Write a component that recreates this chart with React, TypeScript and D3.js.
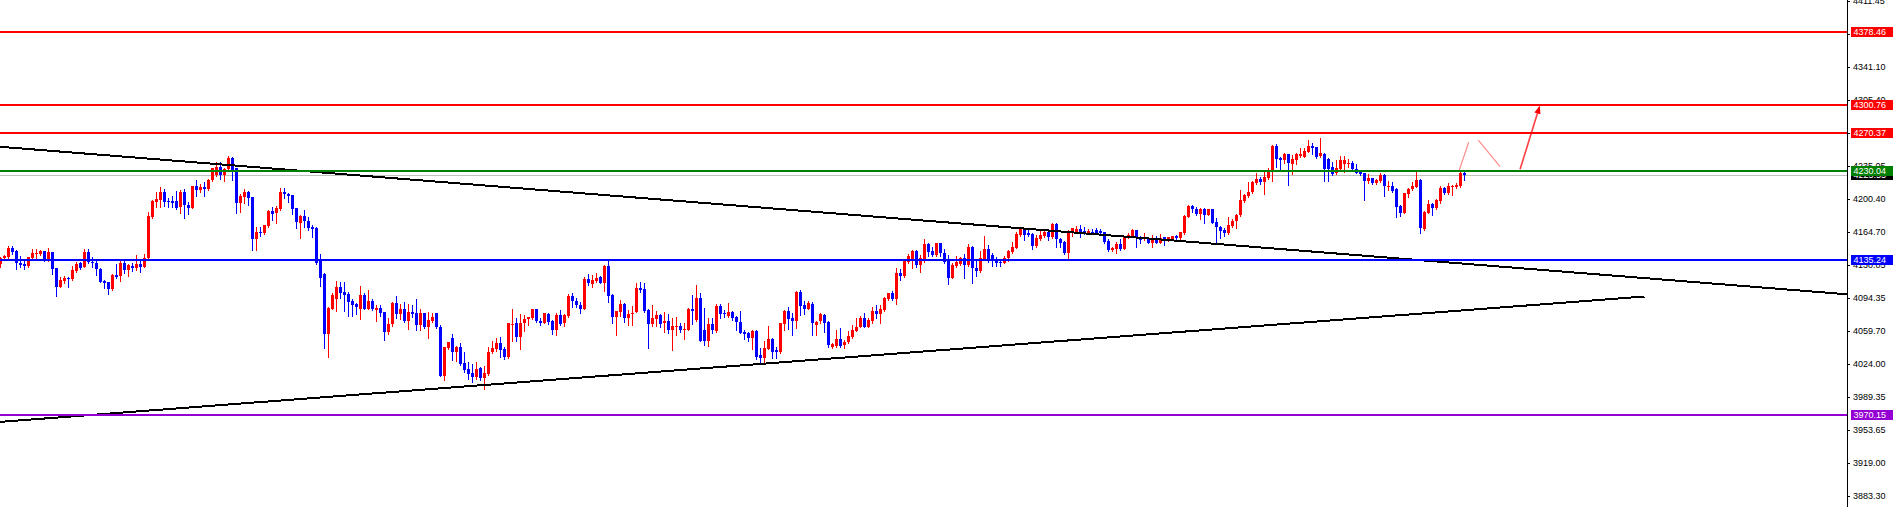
import React from 'react';
import * as d3 from 'd3';

// [open, high, low, close]
const candles: [number, number, number, number][] = [
  [4130.9, 4138.7, 4128.0, 4137.0], [4137.0, 4140.5, 4135.2, 4139.8], [4138.7, 4149.7, 4137.6, 4148.3], [4148.3, 4150.1, 4141.6, 4144.0],
  [4145.1, 4145.8, 4125.2, 4131.6], [4132.3, 4139.1, 4127.3, 4129.8], [4130.9, 4134.4, 4125.9, 4128.8], [4128.8, 4138.7, 4128.0, 4138.0],
  [4137.0, 4146.9, 4135.2, 4143.0], [4141.6, 4146.5, 4137.0, 4143.0], [4141.6, 4145.8, 4140.5, 4144.8], [4144.8, 4145.1, 4134.1, 4135.2],
  [4135.2, 4148.0, 4134.4, 4144.0], [4143.7, 4144.0, 4120.6, 4125.2], [4126.3, 4127.0, 4097.1, 4106.7], [4106.7, 4117.4, 4106.0, 4114.2],
  [4113.1, 4118.4, 4111.0, 4115.9], [4116.3, 4117.4, 4106.7, 4114.5], [4114.5, 4128.8, 4113.8, 4124.5], [4123.4, 4133.4, 4122.7, 4131.2],
  [4131.6, 4133.4, 4125.2, 4127.0], [4128.0, 4146.5, 4127.3, 4143.7], [4143.3, 4146.9, 4131.6, 4132.7], [4133.4, 4138.3, 4128.0, 4131.6],
  [4132.0, 4134.4, 4119.1, 4125.2], [4125.2, 4126.3, 4111.3, 4112.0], [4112.7, 4113.8, 4104.9, 4111.0], [4111.7, 4112.0, 4099.2, 4103.9],
  [4103.9, 4120.2, 4103.1, 4119.5], [4118.8, 4130.5, 4115.6, 4117.4], [4118.1, 4134.1, 4113.1, 4132.3], [4132.3, 4135.2, 4120.9, 4124.5],
  [4124.5, 4130.9, 4118.1, 4129.8], [4128.8, 4132.3, 4123.8, 4127.0], [4126.3, 4140.5, 4124.5, 4130.9], [4130.9, 4135.2, 4122.7, 4128.0],
  [4128.0, 4141.6, 4127.3, 4137.0], [4137.0, 4186.7, 4136.2, 4182.1], [4180.7, 4199.2, 4179.6, 4198.5], [4197.4, 4208.1, 4191.4, 4200.2],
  [4199.2, 4213.4, 4191.4, 4208.1], [4207.7, 4210.6, 4192.8, 4197.4], [4198.5, 4201.0, 4191.4, 4197.0], [4198.1, 4203.5, 4191.4, 4196.3],
  [4197.8, 4208.8, 4189.6, 4191.0], [4191.4, 4209.9, 4185.0, 4208.1], [4208.1, 4210.9, 4180.0, 4193.5], [4193.5, 4197.4, 4183.9, 4191.0],
  [4191.0, 4214.5, 4190.6, 4214.1], [4214.1, 4220.5, 4203.8, 4209.9], [4209.9, 4215.9, 4208.1, 4212.7], [4213.4, 4218.0, 4203.8, 4210.6],
  [4210.9, 4221.2, 4210.2, 4220.5], [4220.5, 4233.7, 4219.8, 4233.0], [4225.9, 4240.1, 4225.1, 4234.0], [4234.0, 4240.1, 4221.6, 4225.9],
  [4225.9, 4233.7, 4219.8, 4232.6], [4231.9, 4246.1, 4231.2, 4244.3], [4244.3, 4244.7, 4220.5, 4231.2], [4233.0, 4233.7, 4185.0, 4196.3],
  [4196.3, 4205.6, 4186.7, 4203.5], [4202.7, 4210.9, 4195.6, 4208.1], [4207.7, 4208.8, 4193.8, 4201.7], [4202.0, 4202.7, 4145.8, 4157.9],
  [4157.9, 4170.7, 4145.8, 4165.0], [4165.4, 4170.7, 4160.8, 4163.6], [4163.6, 4172.5, 4162.5, 4172.1], [4171.4, 4188.5, 4170.7, 4187.4],
  [4187.4, 4191.4, 4177.8, 4184.3], [4185.0, 4192.4, 4174.3, 4190.6], [4189.6, 4211.6, 4188.5, 4208.1], [4208.1, 4211.6, 4201.0, 4205.2],
  [4205.6, 4207.0, 4197.0, 4203.8], [4204.5, 4204.9, 4184.3, 4189.6], [4190.3, 4191.0, 4169.7, 4176.1], [4175.0, 4183.2, 4159.0, 4182.1],
  [4182.1, 4188.5, 4170.7, 4176.4], [4176.4, 4181.4, 4167.2, 4168.9], [4170.7, 4172.5, 4160.1, 4168.6], [4169.7, 4170.7, 4130.9, 4132.3],
  [4134.1, 4141.5, 4107.4, 4116.3], [4120.2, 4120.9, 4041.2, 4056.2], [4056.2, 4084.6, 4032.0, 4084.3], [4083.2, 4099.6, 4082.5, 4097.8],
  [4093.9, 4112.7, 4080.7, 4106.7], [4106.7, 4112.0, 4094.2, 4100.3], [4101.0, 4111.3, 4080.7, 4098.1], [4098.9, 4101.4, 4075.7, 4090.7],
  [4091.4, 4093.5, 4075.7, 4087.1], [4088.2, 4088.9, 4077.5, 4084.6], [4082.9, 4107.4, 4072.2, 4097.8], [4097.8, 4099.6, 4082.5, 4083.2],
  [4083.2, 4103.1, 4082.5, 4091.4], [4091.4, 4093.2, 4081.8, 4082.9], [4081.8, 4087.1, 4070.1, 4084.3], [4084.3, 4087.1, 4075.7, 4078.9],
  [4079.7, 4079.7, 4049.8, 4058.7], [4058.7, 4072.9, 4056.2, 4067.2], [4066.5, 4090.0, 4065.1, 4089.6], [4089.6, 4097.1, 4072.9, 4077.5],
  [4077.5, 4088.2, 4072.2, 4083.2], [4083.2, 4090.7, 4069.4, 4070.4], [4070.4, 4087.8, 4061.9, 4079.7], [4079.7, 4087.1, 4074.7, 4077.9],
  [4078.6, 4093.5, 4060.5, 4065.8], [4065.8, 4083.2, 4060.5, 4078.2], [4078.2, 4078.9, 4063.0, 4064.0], [4064.0, 4079.7, 4052.3, 4071.1],
  [4070.4, 4078.9, 4069.4, 4074.7], [4078.2, 4078.9, 4062.2, 4063.3], [4064.0, 4066.1, 4011.4, 4011.7], [4011.7, 4042.7, 4007.1, 4041.9],
  [4041.2, 4048.0, 4040.5, 4047.3], [4051.9, 4056.2, 4028.4, 4037.3], [4037.3, 4043.4, 4027.4, 4042.7], [4042.3, 4046.9, 4023.1, 4024.5],
  [4025.6, 4036.6, 4016.0, 4017.8], [4018.8, 4026.7, 4007.8, 4013.5], [4014.9, 4024.2, 4005.3, 4010.7], [4010.7, 4026.0, 4007.8, 4019.2],
  [4020.3, 4021.3, 4007.1, 4009.6], [4008.9, 4022.0, 3997.8, 4014.2], [4013.5, 4041.9, 4012.8, 4037.0], [4037.0, 4048.7, 4036.3, 4041.6],
  [4040.2, 4051.9, 4037.7, 4046.2], [4046.2, 4052.6, 4031.3, 4039.1], [4039.8, 4042.7, 4029.5, 4031.3], [4031.3, 4068.3, 4030.6, 4067.6],
  [4066.5, 4082.9, 4049.1, 4067.2], [4067.6, 4072.9, 4048.7, 4053.3], [4053.3, 4077.5, 4040.2, 4068.3], [4067.6, 4076.5, 4059.4, 4072.5],
  [4071.8, 4074.7, 4065.8, 4074.0], [4072.9, 4083.2, 4072.2, 4082.5], [4082.5, 4082.9, 4068.6, 4070.4], [4070.4, 4072.9, 4065.8, 4068.3],
  [4068.3, 4078.9, 4067.6, 4078.2], [4077.5, 4078.2, 4066.9, 4068.6], [4070.4, 4071.1, 4056.2, 4060.1], [4060.1, 4078.2, 4055.1, 4076.5],
  [4076.8, 4081.8, 4065.8, 4066.9], [4067.6, 4077.5, 4065.1, 4076.8], [4075.8, 4098.5, 4074.7, 4097.1], [4097.1, 4099.6, 4085.4, 4091.8],
  [4091.8, 4094.2, 4085.4, 4086.8], [4087.5, 4090.7, 4079.0, 4083.2], [4083.2, 4117.4, 4082.5, 4115.2], [4115.2, 4119.9, 4108.5, 4110.2],
  [4109.9, 4119.1, 4106.7, 4113.8], [4113.1, 4120.9, 4112.0, 4115.6], [4117.4, 4118.1, 4110.6, 4111.0], [4110.2, 4129.8, 4102.1, 4129.1],
  [4128.7, 4134.1, 4090.7, 4097.1], [4097.8, 4098.5, 4068.3, 4074.7], [4074.7, 4081.1, 4055.1, 4080.7], [4080.0, 4092.5, 4075.7, 4088.2],
  [4088.2, 4088.9, 4069.3, 4073.6], [4073.6, 4081.8, 4065.8, 4077.2], [4077.2, 4086.1, 4065.8, 4079.0], [4080.0, 4110.3, 4079.7, 4104.9],
  [4104.9, 4111.3, 4100.6, 4103.1], [4104.2, 4110.3, 4080.0, 4081.1], [4081.8, 4082.5, 4041.6, 4066.8], [4066.8, 4087.1, 4064.7, 4072.9],
  [4072.2, 4080.7, 4064.7, 4076.1], [4076.5, 4077.5, 4063.3, 4066.8], [4067.6, 4080.0, 4058.7, 4070.1], [4070.1, 4077.5, 4056.9, 4060.5],
  [4060.5, 4072.9, 4039.1, 4064.7], [4063.3, 4074.7, 4055.1, 4064.7], [4064.7, 4068.3, 4058.7, 4060.5], [4060.5, 4068.3, 4050.8, 4061.5],
  [4060.5, 4083.6, 4060.1, 4082.5], [4082.5, 4097.8, 4066.8, 4081.1], [4071.1, 4108.5, 4070.4, 4094.2], [4094.2, 4100.3, 4048.4, 4049.1],
  [4060.5, 4083.6, 4044.4, 4049.1], [4049.1, 4072.9, 4043.7, 4066.8], [4066.8, 4072.9, 4056.9, 4060.5], [4059.7, 4088.2, 4058.7, 4086.1],
  [4086.1, 4088.2, 4072.9, 4077.5], [4079.0, 4081.8, 4074.7, 4077.5], [4075.8, 4089.6, 4074.0, 4080.0], [4079.7, 4080.7, 4071.1, 4072.9],
  [4074.7, 4075.8, 4060.5, 4069.3], [4069.3, 4080.7, 4056.9, 4057.6], [4058.7, 4060.5, 4050.5, 4056.2], [4056.9, 4058.0, 4048.7, 4051.6],
  [4051.6, 4060.5, 4040.2, 4059.4], [4059.4, 4060.5, 4029.5, 4032.0], [4033.8, 4041.2, 4024.9, 4030.2], [4030.2, 4048.7, 4024.9, 4040.9],
  [4040.2, 4064.7, 4039.8, 4050.5], [4050.5, 4051.6, 4030.9, 4037.3], [4039.1, 4042.0, 4030.9, 4037.3], [4037.3, 4068.3, 4035.6, 4067.6],
  [4066.8, 4081.8, 4060.5, 4080.7], [4080.7, 4085.4, 4061.5, 4071.8], [4072.9, 4078.9, 4055.1, 4070.1], [4070.1, 4102.1, 4063.0, 4100.6],
  [4101.4, 4103.1, 4076.5, 4086.4], [4087.1, 4091.4, 4077.2, 4082.9], [4082.9, 4091.8, 4082.5, 4088.9], [4088.2, 4090.7, 4055.1, 4068.3],
  [4065.8, 4070.1, 4055.1, 4069.3], [4070.1, 4078.2, 4068.3, 4077.2], [4076.5, 4077.2, 4058.7, 4068.3], [4069.3, 4070.1, 4042.7, 4044.4],
  [4042.7, 4046.2, 4041.2, 4045.2], [4043.7, 4060.5, 4042.0, 4050.8], [4050.8, 4062.2, 4042.7, 4043.7], [4044.4, 4049.8, 4040.9, 4047.3],
  [4047.3, 4059.7, 4046.2, 4054.0], [4052.6, 4065.8, 4051.9, 4060.5], [4059.7, 4073.6, 4059.0, 4064.0], [4064.0, 4075.4, 4063.3, 4073.6],
  [4073.6, 4078.9, 4063.3, 4064.0], [4064.0, 4072.9, 4063.3, 4071.1], [4070.4, 4085.4, 4068.3, 4081.1], [4081.1, 4087.1, 4073.6, 4077.5],
  [4077.5, 4087.1, 4068.3, 4082.5], [4081.8, 4095.3, 4080.7, 4094.2], [4093.2, 4100.3, 4092.5, 4099.6], [4099.6, 4102.4, 4092.5, 4093.5],
  [4093.5, 4126.3, 4088.2, 4121.6], [4121.6, 4125.2, 4113.8, 4118.1], [4118.1, 4135.2, 4117.4, 4134.4], [4133.4, 4141.6, 4131.6, 4139.8],
  [4135.2, 4145.8, 4126.3, 4145.1], [4145.1, 4145.8, 4128.0, 4129.8], [4129.8, 4140.5, 4122.7, 4136.9], [4136.2, 4157.2, 4133.4, 4152.2],
  [4152.2, 4152.9, 4139.4, 4144.0], [4144.8, 4149.4, 4139.4, 4140.5], [4140.5, 4153.6, 4139.4, 4152.9], [4152.9, 4153.6, 4139.4, 4142.3],
  [4142.3, 4146.5, 4132.3, 4133.4], [4134.1, 4140.5, 4109.5, 4116.3], [4116.3, 4131.6, 4115.6, 4129.8], [4128.7, 4139.4, 4127.3, 4133.4],
  [4130.9, 4138.7, 4129.8, 4136.9], [4136.9, 4141.6, 4116.3, 4129.8], [4129.8, 4152.2, 4128.7, 4148.7], [4148.7, 4150.1, 4111.0, 4126.3],
  [4127.0, 4135.2, 4118.1, 4123.8], [4123.4, 4145.1, 4122.7, 4136.9], [4136.2, 4160.8, 4135.2, 4146.5], [4146.5, 4151.2, 4133.4, 4134.4],
  [4140.5, 4142.3, 4128.7, 4134.4], [4136.2, 4138.7, 4128.7, 4131.6], [4133.4, 4135.2, 4128.7, 4131.6], [4132.3, 4139.4, 4131.6, 4137.6],
  [4136.9, 4145.8, 4134.4, 4145.1], [4144.0, 4154.7, 4143.0, 4149.4], [4148.3, 4165.4, 4147.6, 4162.9], [4161.8, 4170.0, 4161.1, 4167.9],
  [4167.9, 4168.9, 4156.5, 4161.8], [4164.3, 4167.2, 4160.8, 4161.8], [4162.9, 4163.6, 4146.9, 4150.4], [4150.1, 4161.8, 4149.4, 4158.3],
  [4157.2, 4167.2, 4156.5, 4161.8], [4161.1, 4166.5, 4160.0, 4164.7], [4164.7, 4167.2, 4156.5, 4159.3], [4159.3, 4175.0, 4158.3, 4173.2],
  [4173.2, 4174.3, 4149.4, 4157.2], [4157.2, 4158.3, 4149.4, 4153.6], [4154.7, 4155.8, 4141.6, 4142.3], [4142.3, 4167.2, 4136.9, 4166.5],
  [4163.6, 4169.6, 4160.8, 4168.9], [4165.4, 4171.4, 4164.3, 4168.2], [4168.2, 4172.5, 4159.3, 4164.7], [4166.1, 4170.7, 4162.9, 4164.3],
  [4163.6, 4167.9, 4162.9, 4166.5], [4165.4, 4168.2, 4162.9, 4163.6], [4167.2, 4168.9, 4162.5, 4163.6], [4166.1, 4167.9, 4161.8, 4163.6],
  [4164.7, 4165.4, 4153.6, 4154.7], [4155.8, 4157.2, 4145.1, 4145.8], [4145.8, 4149.4, 4144.8, 4148.3], [4146.9, 4154.7, 4143.0, 4152.2],
  [4152.2, 4157.2, 4145.8, 4146.9], [4146.9, 4160.0, 4146.5, 4159.3], [4159.0, 4164.3, 4158.3, 4161.8], [4160.8, 4167.9, 4160.0, 4167.2],
  [4167.2, 4167.2, 4149.4, 4159.3], [4159.3, 4160.8, 4152.9, 4156.5], [4157.2, 4163.6, 4156.5, 4159.3], [4157.2, 4159.3, 4152.9, 4153.6],
  [4153.6, 4161.8, 4149.4, 4157.2], [4156.5, 4160.8, 4152.9, 4153.6], [4153.6, 4162.9, 4152.9, 4158.3], [4159.3, 4160.0, 4151.2, 4156.5],
  [4156.5, 4160.0, 4155.8, 4159.3], [4157.6, 4161.1, 4156.5, 4160.8], [4160.8, 4161.8, 4157.6, 4158.3], [4158.3, 4165.0, 4157.9, 4164.7],
  [4163.6, 4183.2, 4162.9, 4182.5], [4181.4, 4193.8, 4180.7, 4192.8], [4192.8, 4193.8, 4186.7, 4189.2], [4189.2, 4192.1, 4183.2, 4183.9],
  [4183.9, 4190.3, 4178.6, 4189.2], [4189.2, 4190.3, 4175.0, 4183.2], [4183.2, 4189.6, 4183.2, 4189.2], [4189.2, 4189.9, 4174.3, 4175.0],
  [4175.7, 4180.3, 4154.0, 4170.0], [4170.7, 4171.4, 4158.3, 4166.4], [4167.2, 4169.0, 4160.8, 4164.3], [4163.6, 4180.7, 4162.9, 4172.5],
  [4171.4, 4178.6, 4170.7, 4177.1], [4176.8, 4184.2, 4169.7, 4183.5], [4183.2, 4209.9, 4182.5, 4199.2], [4198.5, 4205.6, 4197.4, 4204.5],
  [4203.5, 4218.7, 4202.7, 4208.1], [4207.4, 4219.5, 4206.3, 4218.0], [4217.0, 4227.6, 4216.3, 4221.6], [4221.6, 4224.1, 4216.3, 4218.0],
  [4218.0, 4231.2, 4205.6, 4223.4], [4222.3, 4233.0, 4221.2, 4231.2], [4231.2, 4257.9, 4219.8, 4256.8], [4256.8, 4258.6, 4234.7, 4243.3],
  [4244.4, 4245.4, 4231.9, 4241.9], [4241.9, 4249.0, 4239.0, 4247.9], [4247.9, 4248.3, 4215.2, 4238.3], [4237.6, 4247.2, 4226.9, 4242.6],
  [4241.9, 4249.0, 4237.6, 4247.9], [4246.1, 4254.3, 4244.7, 4247.9], [4245.4, 4254.3, 4244.7, 4251.5], [4250.8, 4263.2, 4250.1, 4256.8],
  [4256.8, 4259.7, 4248.3, 4254.3], [4255.4, 4256.1, 4244.4, 4245.4], [4246.1, 4265.0, 4245.4, 4249.0], [4247.9, 4249.0, 4219.5, 4231.9],
  [4242.9, 4243.6, 4219.8, 4232.3], [4234.7, 4240.1, 4225.9, 4226.6], [4227.6, 4241.9, 4226.6, 4233.0], [4231.9, 4246.1, 4230.5, 4241.9],
  [4237.6, 4246.1, 4228.7, 4241.9], [4237.6, 4242.6, 4234.7, 4239.0], [4238.3, 4241.2, 4231.2, 4231.9], [4231.9, 4237.6, 4227.6, 4228.4],
  [4229.4, 4230.5, 4225.9, 4226.9], [4227.6, 4228.4, 4199.2, 4219.8], [4219.5, 4226.6, 4217.0, 4222.3], [4222.3, 4223.0, 4215.9, 4217.7],
  [4217.7, 4221.2, 4215.9, 4220.5], [4219.5, 4227.6, 4218.7, 4225.9], [4225.9, 4227.0, 4203.5, 4214.1], [4213.4, 4219.5, 4209.9, 4214.5],
  [4214.1, 4218.7, 4208.1, 4209.1], [4210.9, 4211.6, 4181.4, 4192.1], [4193.1, 4193.8, 4182.5, 4185.7], [4185.7, 4207.0, 4185.0, 4206.3],
  [4205.6, 4211.6, 4202.7, 4210.6], [4210.6, 4218.0, 4209.9, 4214.5], [4213.4, 4230.5, 4212.7, 4220.5], [4220.5, 4221.2, 4164.3, 4169.7],
  [4168.2, 4187.4, 4167.2, 4186.7], [4185.7, 4199.2, 4185.0, 4194.9], [4194.9, 4196.3, 4183.2, 4190.3], [4190.3, 4200.2, 4189.2, 4199.2],
  [4198.5, 4214.5, 4195.6, 4211.6], [4211.6, 4213.4, 4205.6, 4206.3], [4207.0, 4216.9, 4205.6, 4214.1], [4213.4, 4215.2, 4204.5, 4214.1],
  [4212.7, 4216.9, 4211.6, 4215.2], [4214.1, 4229.4, 4213.4, 4227.6], [4228.4, 4228.7, 4220.5, 4225.6],
];

const priceTicks = [4411.45, 4376.80, 4341.10, 4305.40, 4270.75, 4235.05, 4200.40, 4164.70, 4130.05, 4094.35, 4059.70, 4024.00, 3989.35, 3953.65, 3919.00, 3883.30];

// horizontal levels: price and kind
const levelPrices = [4378.46, 4300.76, 4270.37, 4230.04, 4135.24, 3970.15];
const levelKinds = ['resist', 'resist', 'resist', 'pivot', 'support', 'floor'];

const bidPrice = 4225.55;

// trend lines: [barIndex, price] pairs
const trendLines: [number, number][][] = [
  [[-0.125, 4256.0], [461.6, 4098.6]],
  [[-0.125, 3962.4], [411.0, 4096.2]],
];

// projected path annotations: [barIndex, price] pairs
const pathSegments: [number, number][][] = [
  [[364.7, 4231.2], [367.05, 4260.8]],
  [[369.45, 4263.2], [374.9, 4234.7]],
  [[379.9, 4231.9], [384.7, 4298.1]],
];

const W = 1894;
const H = 507;
const AXIS_X = 1847;
const FONT = '"Liberation Sans", Arial, sans-serif';

const kindColor: Record<string, string> = {
  resist: '#ff0000',
  pivot: '#008000',
  support: '#0000ff',
  floor: '#9400d3',
};

export default function App() {
  const x = d3.scaleLinear().domain([0, 1]).range([0.5, 4.5]);
  const y = d3.scaleLinear().domain([3871.6, 4412.6]).range([H, 0]);
  const line = d3.line<[number, number]>().x((d) => x(d[0])).y((d) => y(d[1]));

  const bidY = Math.round(y(bidPrice));

  return (
    <div style={{ position: 'absolute', left: 0, top: 0, width: W, height: H, background: '#fff' }}>
      <svg width={W} height={H} style={{ display: 'block' }}>
        <defs>
          <marker id="arrowHead" viewBox="0 0 10 10" refX="8" refY="5" markerWidth="5" markerHeight="5" orient="auto">
            <path d="M0,1 L10,5 L0,9 Z" fill="#ff0000" />
          </marker>
          <clipPath id="plot">
            <rect x={0} y={0} width={AXIS_X} height={H} />
          </clipPath>
        </defs>
        <rect x={0} y={0} width={W} height={H} fill="#ffffff" />

        <g clipPath="url(#plot)">
          {/* bid line */}
          <line x1={0} x2={AXIS_X} y1={bidY + 0.5} y2={bidY + 0.5} stroke="#c0c0c0" strokeWidth={1} shapeRendering="crispEdges" />

          {/* candles */}
          <g shapeRendering="crispEdges">
            {candles.map(([o, h, l, c], i) => {
              const cx = x(i);
              const up = c >= o;
              const col = up ? '#ff0000' : '#0000ff';
              const yt = Math.round(y(Math.max(o, c)));
              const yb = Math.round(y(Math.min(o, c)));
              const yh = Math.round(y(h));
              const yl = Math.round(y(l));
              return (
                <g key={i}>
                  <line x1={cx} x2={cx} y1={yh} y2={yl + 1} stroke={col} strokeWidth={1} />
                  <rect x={cx - 1.5} y={yt} width={3} height={Math.max(1, yb - yt)} fill={col} />
                </g>
              );
            })}
          </g>

          {/* trend lines */}
          {trendLines.map((pts, k) => (
            <path key={k} d={line(pts) || ''} stroke="#000000" strokeWidth={2} fill="none" shapeRendering="crispEdges" />
          ))}

          {/* horizontal levels */}
          {levelPrices.map((p, k) => {
            const yy = Math.round(y(p));
            return (
              <line key={k} x1={0} x2={AXIS_X} y1={yy} y2={yy} stroke={kindColor[levelKinds[k]]} strokeWidth={2} shapeRendering="crispEdges" />
            );
          })}

          {/* projected path */}
          {pathSegments.map((pts, k) => (
            <path
              key={k}
              d={line(pts) || ''}
              stroke="#ff0000"
              strokeWidth={k === 2 ? 1.6 : 1.2}
              strokeOpacity={k === 2 ? 0.75 : 0.45}
              fill="none"
              markerEnd={k === 2 ? 'url(#arrowHead)' : undefined}
            />
          ))}
        </g>

        {/* price axis */}
        <line x1={AXIS_X + 0.5} x2={AXIS_X + 0.5} y1={0} y2={H} stroke="#000" strokeWidth={1} shapeRendering="crispEdges" />
        <g fontFamily={FONT} fontSize={9} fill="#000">
          {priceTicks.map((t) => {
            const yy = Math.round(y(t));
            return (
              <g key={t}>
                <line x1={AXIS_X} x2={AXIS_X + 3} y1={yy + 0.5} y2={yy + 0.5} stroke="#000" shapeRendering="crispEdges" />
                <text x={AXIS_X + 6} y={yy} dominantBaseline="central">{t.toFixed(2)}</text>
              </g>
            );
          })}
        </g>

        {/* price labels */}
        <g fontFamily={FONT} fontSize={9}>
          <g>
            <rect x={AXIS_X + 4} y={bidY - 5} width={42} height={10} fill="#000" />
            <text x={AXIS_X + 6.5} y={bidY} fill="#fff" dominantBaseline="central">{bidPrice.toFixed(2)}</text>
          </g>
          {levelPrices.map((p, k) => {
            const yy = Math.round(y(p));
            return (
              <g key={k}>
                <rect x={AXIS_X + 4} y={yy - 5} width={42} height={10} fill={kindColor[levelKinds[k]]} />
                <text x={AXIS_X + 6.5} y={yy} fill="#fff" dominantBaseline="central">{p.toFixed(2)}</text>
              </g>
            );
          })}
        </g>
      </svg>
    </div>
  );
}
